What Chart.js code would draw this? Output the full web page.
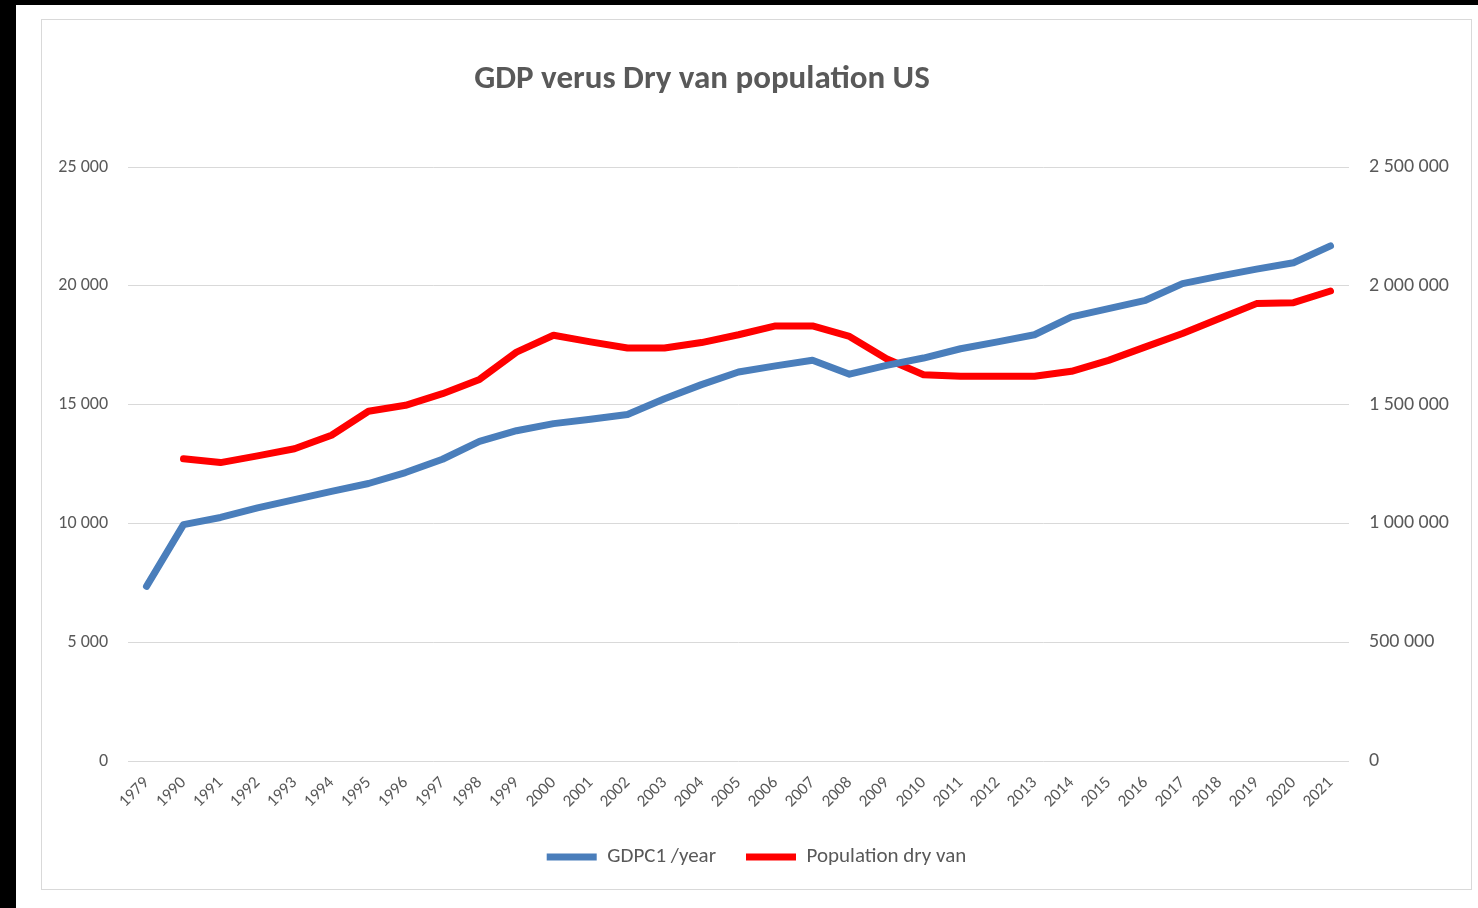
<!DOCTYPE html>
<html>
<head>
<meta charset="utf-8">
<script src="https://cdn.jsdelivr.net/npm/chart.js@4.4.0/dist/chart.umd.min.js"></script>
<style>
  body { margin: 0; background: #000; width: 1478px; height: 908px; overflow: hidden; }
  #panel { position: absolute; left: 16px; top: 5px; right: 0; bottom: 0; background: #fff; }
  #frame { position: absolute; left: 41px; top: 19px; width: 1431px; height: 871px; border: 1px solid #d9d9d9; box-sizing: border-box; }
  #box { position: absolute; left: 42px; top: 20px; width: 1429px; height: 869px; }
  #title { position: absolute; left: 0; width: 1404px; top: 57px; line-height: 40px; text-align: center;
    font-family: Carlito, Calibri, Lato, sans-serif; font-weight: bold; font-size: 33px; color: #595959; }
</style>
</head>
<body>
<div id="panel"></div>
<div id="frame"></div>
<div id="box"><canvas id="myChart"></canvas></div>
<div id="title">GDP verus Dry van population US</div>
<script>
// Data
const years = ['1979', '1990', '1991', '1992', '1993', '1994', '1995', '1996', '1997', '1998',
  '1999', '2000', '2001', '2002', '2003', '2004', '2005', '2006', '2007', '2008', '2009',
  '2010', '2011', '2012', '2013', '2014', '2015', '2016', '2017', '2018', '2019', '2020', '2021'];
const gdp = [7350, 9950, 10250, 10650, 11000, 11350, 11680, 12140, 12700, 13450,
  13900, 14200, 14380, 14580, 15250, 15840, 16370, 16630, 16870, 16280, 16650,
  16960, 17350, 17640, 17940, 18690, 19040, 19390, 20090, 20410, 20700, 20970, 21680];
const dryVan = [null, 1272000, 1256000, 1284000, 1314000, 1371000, 1472000, 1497000, 1546000, 1606000,
  1721000, 1792000, 1764000, 1738000, 1738000, 1761000, 1794000, 1831000, 1831000, 1787000, 1693000,
  1626000, 1619000, 1619000, 1619000, 1640000, 1686000, 1743000, 1799000, 1862000, 1925000, 1929000, 1978000];
const leftTicks = [0, 5000, 10000, 15000, 20000, 25000];
const rightTicks = [0, 500000, 1000000, 1500000, 2000000, 2500000];

const fontFamily = "Carlito, Calibri, Lato, sans-serif";
const grey = '#595959';

// thousands separated by a space, like the original
function spaced(v) {
  return String(v).replace(/\B(?=(\d{3})+(?!\d))/g, ' ');
}

const ctx = document.getElementById('myChart').getContext('2d');
const myChart = new Chart(ctx, {
  type: 'line',
  data: {
    labels: years,
    datasets: [{
      label: 'GDPC1 /year',
      data: gdp,
      yAxisID: 'y',
      borderColor: '#4a7ebb',
      backgroundColor: '#4a7ebb',
      borderWidth: 7,
      borderCapStyle: 'round',
      borderJoinStyle: 'round',
      pointRadius: 0,
      tension: 0
    }, {
      label: 'Population dry van',
      data: dryVan,
      yAxisID: 'y2',
      borderColor: '#ff0000',
      backgroundColor: '#ff0000',
      borderWidth: 7,
      borderCapStyle: 'round',
      borderJoinStyle: 'round',
      pointRadius: 0,
      tension: 0
    }]
  },
  options: {
    responsive: true,
    maintainAspectRatio: false,
    animation: false,
    layout: { padding: { top: 147, bottom: 11.5, left: 0, right: 0 } },
    plugins: {
      title: { display: false },
      legend: {
        position: 'bottom',
        labels: {
          color: grey,
          font: { family: fontFamily, size: 21 },
          usePointStyle: true,
          pointStyle: 'line',
          pointStyleWidth: 50,
          boxHeight: 7,
          padding: 30
        }
      },
      tooltip: { enabled: false }
    },
    scales: {
      x: {
        offset: true,
        grid: { display: false },
        border: { display: false },
        ticks: {
          color: grey,
          font: { family: fontFamily, size: 17 },
          minRotation: 45,
          maxRotation: 45,
          autoSkip: false,
          padding: 4
        },
        afterFit: function (scale) { scale.height = 55.5; }
      },
      y: {
        position: 'left',
        min: 0,
        max: 25000,
        afterBuildTicks: function (scale) { scale.ticks = leftTicks.map(v => ({ value: v })); },
        grid: { color: '#d9d9d9', lineWidth: 1, drawTicks: false },
        border: { display: false },
        ticks: {
          color: grey,
          font: { family: fontFamily, size: 18 },
          padding: 20,
          callback: function (v) { return spaced(v); }
        },
        afterFit: function (scale) { scale.width = 86; }
      },
      y2: {
        position: 'right',
        min: 0,
        max: 2500000,
        afterBuildTicks: function (scale) { scale.ticks = rightTicks.map(v => ({ value: v })); },
        grid: { display: false, drawTicks: false },
        border: { display: false },
        ticks: {
          color: grey,
          font: { family: fontFamily, size: 20 },
          padding: 20,
          callback: function (v) { return spaced(v); }
        },
        afterFit: function (scale) { scale.width = 122; }
      }
    }
  }
});
</script>
</body>
</html>
